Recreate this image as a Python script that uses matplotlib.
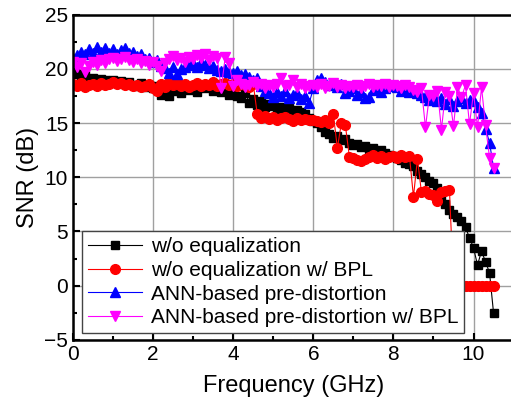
import numpy as np
import matplotlib.pyplot as plt

plt.rcParams['font.family'] = ['Liberation Sans', 'DejaVu Sans']

# measurement grid, 0.1 GHz steps
freq = np.linspace(0, 10.5, 106)

# SNR (dB)
snr_noeq = [
    19.7, 19.5, 19.3, 19.4, 19.0, 19.2, 18.9, 19.1, 19.0, 18.8,
    19.0, 18.7, 18.9, 18.6, 18.8, 18.5, 18.4, 18.7, 18.3, 18.5,
    18.2, 18.4, 17.6, 18.3, 17.5, 18.0, 18.2, 17.8, 18.4, 18.1,
    18.3, 17.9, 18.4, 18.2, 18.5, 18.0, 18.3, 17.9, 18.2, 17.6,
    17.8, 17.5, 17.3, 17.8, 16.9, 17.2, 16.7, 17.0, 16.5, 16.8,
    16.6, 16.3, 16.5, 16.1, 16.4, 15.9, 16.2, 16.0, 15.8, 15.5,
    15.2, 15.0, 14.6, 14.2, 14.0, 13.6, 13.8, 13.4, 13.5, 13.2,
    13.0, 13.1, 12.8, 12.9, 12.6, 12.7, 12.4, 12.5, 12.2, 12.1,
    12.0, 11.8, 11.6, 11.3, 11.2, 11.0, 10.6, 10.3, 10.0, 9.7,
    9.5, 9.0, 8.0, 7.5, 7.0, 6.6, 6.3, 6.0, 5.4, 4.4,
    3.5, 1.9, 3.2, 2.2, 1.2, -2.5,
]
snr_noeq_bpl = [
    18.6, 18.4, 18.7, 18.3, 18.5, 18.6, 18.4, 18.7, 18.5, 18.6,
    18.8, 18.6, 18.7, 18.5, 18.6, 18.4, 18.5, 18.3, 18.4, 18.6,
    18.2, 18.0, 18.6, 18.3, 18.8, 18.5, 18.7, 18.4, 18.6, 18.3,
    18.5, 18.7, 18.4, 18.6, 18.5, 18.8, 18.4, 18.6, 18.7, 18.5,
    18.6, 18.4, 18.7, 18.5, 18.3, 18.6, 15.8, 15.5, 15.7, 15.4,
    15.6, 15.3, 15.5, 15.6, 15.4, 15.2, 15.5, 15.3, 15.4, 15.3,
    15.3, 15.2, 15.1, 15.3, 15.0, 15.8, 12.7, 15.0, 14.8, 11.9,
    11.8, 11.6, 11.5, 11.7, 11.9, 12.1, 11.8, 12.0, 11.7, 11.9,
    12.0, 11.8, 12.1, 11.9, 12.0, 8.2, 11.7, 8.6, 8.7, 8.5,
    8.4, 7.8, 8.6, 8.7, 8.8, 0.0, 0.0, 0.0, 0.0, 0.0,
    0.0, 0.0, 0.0, 0.0, 0.0, 0.0,
]
snr_ann = [
    21.0, 21.3, 21.6, 21.4, 21.8, 21.5, 22.0, 21.6, 21.9, 21.5,
    21.8, 21.4, 21.7, 21.9, 21.5, 21.6, 21.2, 21.4, 20.9, 21.0,
    20.6, 20.8, 20.3, 20.1, 19.6, 20.2, 19.5, 20.0, 20.2, 20.4,
    20.5, 20.2, 20.6, 20.4, 20.1, 20.3, 19.9, 19.8, 20.0, 19.7,
    19.6, 19.8, 19.4, 19.5, 19.3, 19.0, 19.2, 18.4, 18.0, 17.8,
    17.4, 17.9, 17.5, 18.0, 17.3, 17.6, 17.8, 17.2, 17.5, 16.9,
    18.2, 19.0, 19.2, 18.8, 18.5, 18.7, 18.3, 18.6, 17.8, 18.0,
    18.2, 17.6, 17.9, 17.3, 17.4, 18.1, 18.3, 17.9, 18.2, 18.4,
    18.5, 18.3, 18.0, 18.2, 17.9, 18.1, 17.8, 17.6, 17.4, 17.1,
    17.5, 17.0, 17.3, 16.8, 17.2, 16.6, 17.0, 17.3, 16.9, 17.1,
    17.0, 16.5, 15.9, 14.5, 13.2, 10.9,
]
snr_ann_bpl = [
    20.6, 20.2, 20.5, 19.7, 20.3, 20.6, 20.4, 20.8, 20.5, 20.9,
    21.0, 20.7, 20.9, 21.1, 20.8, 20.6, 20.9, 20.5, 20.7, 20.4,
    20.6, 20.3, 19.8, 20.5, 20.9, 21.2, 20.8, 21.0, 20.6, 21.1,
    20.9, 21.3, 21.0, 21.4, 20.8, 21.2, 21.0, 18.2, 21.1, 20.5,
    18.4, 19.0, 18.6, 18.3, 18.5, 18.8, 18.4, 18.6, 18.2, 18.5,
    18.3, 18.6, 19.2, 18.4, 18.5, 19.0, 18.3, 18.6, 18.2, 18.4,
    18.5, 18.3, 18.6, 18.2, 18.4, 18.7, 18.3, 18.5, 18.2, 18.4,
    18.3, 18.5, 18.2, 18.4, 18.6, 18.3, 18.5, 18.4, 18.6, 18.3,
    18.5, 18.4, 18.2, 18.5, 18.3, 18.1, 17.9, 18.2, 14.6, 17.6,
    17.5, 18.0, 14.4, 17.9, 17.5, 14.7, 18.3, 17.4, 18.5, 14.9,
    17.8, 14.6, 18.3, 14.8, 11.8, 10.9,
]

labels = ['w/o equalization', 'w/o equalization w/ BPL',
          'ANN-based pre-distortion', 'ANN-based pre-distortion w/ BPL']

fig = plt.figure(figsize=(5.11, 4.09), dpi=100)
ax = fig.add_axes([0.143, 0.169, 0.862, 0.795])

ax.plot(freq, snr_noeq, c='black', lw=0.8, marker='s', ms=5.5, label=labels[0])
ax.plot(freq, snr_noeq_bpl, c='red', lw=0.8, marker='o', ms=7, label=labels[1])
ax.plot(freq, snr_ann, c='blue', lw=0.8, marker='^', ms=7.5, label=labels[2])
ax.plot(freq, snr_ann_bpl, c='magenta', lw=0.8, marker='v', ms=7.5, label=labels[3])

ax.set_xlim(0, 11)
ax.set_ylim(-5, 25)
ax.set_xticks([0, 2, 4, 6, 8, 10])
ax.set_xticks(np.arange(1, 11, 2), minor=True)
ax.set_yticks(np.arange(-5, 26, 5))
ax.set_yticks(np.arange(-2.5, 25, 5), minor=True)
ax.tick_params(which='both', direction='in', labelsize=15, width=1.5)
ax.tick_params(which='major', length=5)
ax.tick_params(which='minor', length=3)
ax.grid(True, which='major', color='#a0a0a0', lw=1)
ax.set_axisbelow(True)
for s in ax.spines.values():
    s.set_linewidth(1.8)

ax.set_xlabel('Frequency (GHz)', fontsize=17, labelpad=8)
ax.set_ylabel('SNR (dB)', fontsize=17, labelpad=4)

leg = ax.legend(loc='lower left', bbox_to_anchor=(0.02, 0.02), borderaxespad=0,
                fontsize=15, fancybox=False, framealpha=1, edgecolor='#444444',
                handlelength=2.6, labelspacing=0.22, borderpad=0.3, handletextpad=0.4)
leg.get_frame().set_linewidth(1)

fig.savefig('out.png', dpi=100)
